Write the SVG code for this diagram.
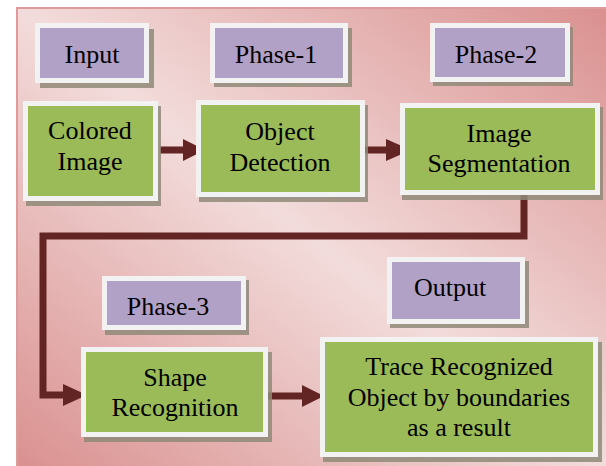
<svg xmlns="http://www.w3.org/2000/svg" width="606" height="466" viewBox="0 0 606 466">
<defs>
<linearGradient id="bg" x1="1" y1="0" x2="0" y2="1">
<stop offset="0" stop-color="#d98f8e"/>
<stop offset="0.5" stop-color="#f2dcdb"/>
<stop offset="1" stop-color="#d98f8e"/>
</linearGradient>
<style>
.sh{fill:#8f8a78;opacity:0.85}
.ph{fill:#b2a1c7;stroke:#f2f2f2;stroke-width:5}
.gr{fill:#9bbb59;stroke:#f2f2f2;stroke-width:5}
.ln{fill:none;stroke:#632523;stroke-width:7}
.hd{fill:#632523}
</style>
</defs>
<rect width="606" height="466" fill="#ffffff"/>
<rect x="17" y="8" width="600" height="470" fill="url(#bg)" stroke="#dc9c9c" stroke-width="2"/>

<g id="connectors">
<line class="ln" x1="160" y1="150" x2="185" y2="150"/>
<polygon class="hd" points="183,139 205,150 183,161"/>
<line class="ln" x1="364" y1="150" x2="388" y2="150"/>
<polygon class="hd" points="386,139 411,150 386,161"/>
<polyline class="ln" points="524,193 524,236 43,236 43,395 66,395"/>
<polygon class="hd" points="63,384 87,395 63,406"/>
<line class="ln" x1="266" y1="396" x2="305" y2="396"/>
<polygon class="hd" points="302,385 324,396 302,407"/>
</g>

<g font-family="Liberation Serif, Times New Roman, serif" font-size="26" fill="#000000" text-anchor="middle">
<g id="input">
<rect class="sh" x="40" y="29" width="114" height="59"/>
<rect class="ph" x="37.5" y="25.5" width="109" height="55"/>
<text x="92" y="63">Input</text>
</g>
<g id="phase1">
<rect class="sh" x="214" y="28" width="138" height="59"/>
<rect class="ph" x="212.5" y="25.5" width="133" height="55"/>
<text x="276" y="63">Phase-1</text>
</g>
<g id="phase2">
<rect class="sh" x="433" y="27" width="140" height="59"/>
<rect class="ph" x="432.5" y="25.5" width="135" height="54"/>
<text x="496" y="63">Phase-2</text>
</g>
<g id="colored-image">
<rect class="sh" x="26" y="106" width="135" height="100"/>
<rect class="gr" x="25.5" y="103.5" width="130" height="95"/>
<text x="90" y="139">Colored</text>
<text x="90" y="170">Image</text>
</g>
<g id="object-detection">
<rect class="sh" x="199" y="105" width="169" height="97"/>
<rect class="gr" x="198.5" y="102.5" width="164" height="92"/>
<text x="280" y="140">Object</text>
<text x="280" y="171">Detection</text>
</g>
<g id="image-segmentation">
<rect class="sh" x="402" y="107" width="201" height="93"/>
<rect class="gr" x="402.5" y="105.5" width="195" height="87"/>
<text x="499" y="142">Image</text>
<text x="499" y="172">Segmentation</text>
</g>
<g id="phase3">
<rect class="sh" x="105" y="280" width="144" height="55"/>
<rect class="ph" x="104.5" y="278.5" width="139" height="49"/>
<text x="168" y="315">Phase-3</text>
</g>
<g id="shape-recognition">
<rect class="sh" x="84" y="352" width="188" height="90"/>
<rect class="gr" x="83.5" y="349.5" width="182" height="85"/>
<text x="175" y="386">Shape</text>
<text x="175" y="416">Recognition</text>
</g>
<g id="output">
<rect class="sh" x="390" y="261" width="139" height="67"/>
<rect class="ph" x="389.5" y="259.5" width="133" height="62"/>
<text x="450" y="296">Output</text>
</g>
<g id="trace">
<rect class="sh" x="323" y="342" width="279" height="120"/>
<rect class="gr" x="322.5" y="339.5" width="273" height="115"/>
<text x="459" y="375">Trace Recognized</text>
<text x="459" y="406">Object by boundaries</text>
<text x="459" y="436">as a result</text>
</g>
</g>
</svg>
